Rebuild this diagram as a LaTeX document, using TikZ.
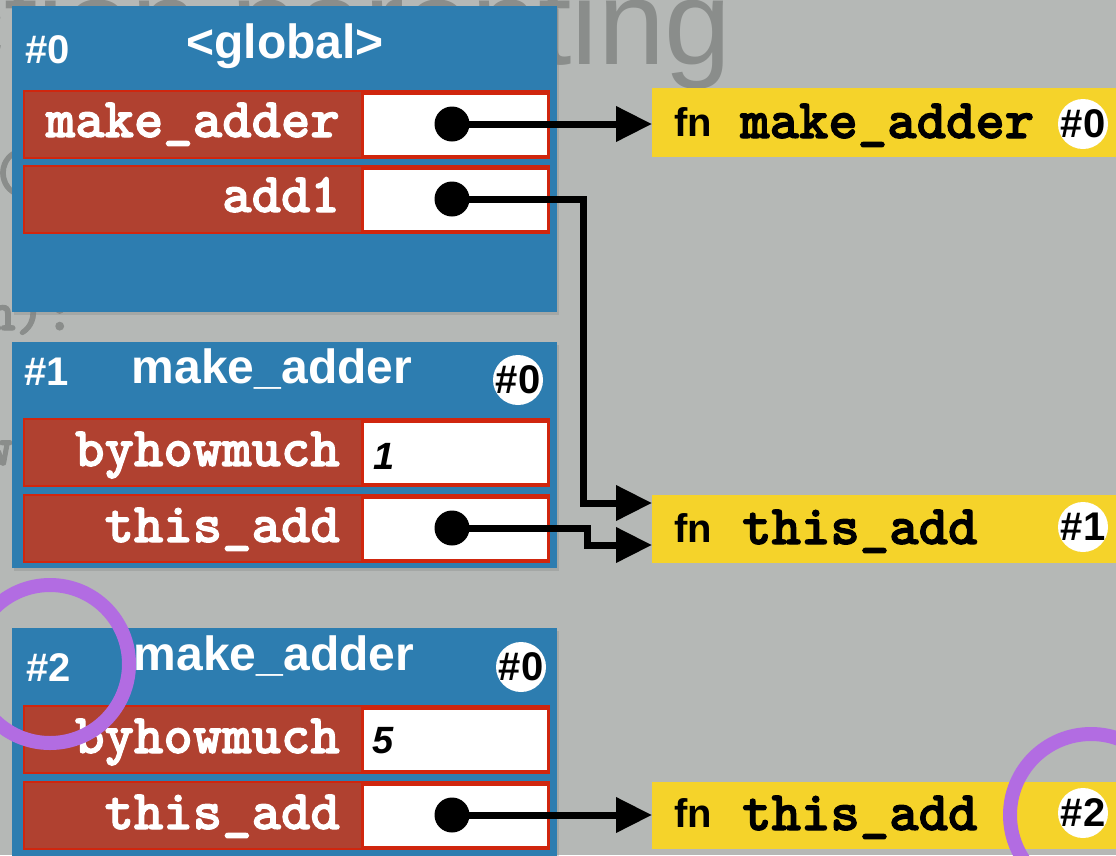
\documentclass[tikz,border=0pt]{standalone}
\usepackage{fontspec}
\setmainfont{Liberation Sans}
\newfontfamily\codefont{lmmonolt10-bold.otf}[FakeBold=2]
\usetikzlibrary{arrows.meta,shadows}
\definecolor{bgc}{RGB}{181,184,182}
\definecolor{frameblue}{RGB}{45,125,176}
\definecolor{rowred}{RGB}{176,65,48}
\definecolor{rowedge}{RGB}{208,38,14}
\definecolor{fnyellow}{RGB}{245,211,42}
\definecolor{ringpurple}{RGB}{178,108,226}
\definecolor{ghost}{RGB}{138,141,139}
\newcommand{\setfs}[1]{\fontsize{#1}{#1}\selectfont}
\begin{document}
\begin{tikzpicture}[x=1pt,y=-1pt,
  frame/.style={fill=frameblue, anchor=north west, inner sep=0, outer sep=0, minimum width=545pt,
    drop shadow={shadow xshift=2pt, shadow yshift=-3pt, opacity=0.3}},
  row/.style={fill=rowred, draw=rowedge, line width=2pt, minimum width=525pt, minimum height=67pt, anchor=north west, inner sep=0},
  val/.style={fill=white, draw=rowedge, line width=3pt, minimum width=186pt, minimum height=63pt, anchor=north west, inner sep=0},
  hdr/.style={text=white, font=\bfseries\setfs{48}, anchor=base, inner sep=0},
  fid/.style={text=white, font=\bfseries\setfs{40}, anchor=base west, inner sep=0},
  vname/.style={text=white, font=\codefont\setfs{56}, anchor=base east, inner sep=0},
  vval/.style={text=black, font=\bfseries\itshape\setfs{38}, anchor=base west, inner sep=0},
  fnbox/.style={fill=fnyellow, minimum width=470pt, anchor=north west, inner sep=0},
  fnkw/.style={text=black, font=\bfseries\setfs{40}, anchor=base west, inner sep=0},
  fnname/.style={text=black, font=\codefont\setfs{56}, anchor=base west, inner sep=0},
  pcirc/.style={circle, fill=white, minimum size=50pt, inner sep=0},
  plbl/.style={text=black, font=\bfseries\setfs{40}, inner sep=0},
  dot/.style={circle, fill=black, minimum size=35pt, inner sep=0},
  conn/.style={line width=7pt, -{Triangle[length=36pt,width=34pt]}},
  ring/.style={circle, draw=ringpurple, line width=14pt, inner sep=0},
  ghosttitle/.style={text=ghost, font=\setfs{120}, anchor=base east, inner sep=0},
  ghostcode/.style={text=ghost, font=\codefont\setfs{56}, anchor=base west, inner sep=0}
]
\useasboundingbox (0,0) rectangle (1116,855);
\clip (0,0) rectangle (1116,855);
\fill[bgc] (0,0) rectangle (1116,855);

% faded slide text in the background
\node[ghosttitle] (title) at (732,64) {Function parenting};
\node[ghostcode] (code1) at (-9,190) {(};
\node[ghostcode] (code2) at (-14,330) {n):};
\node[ghostcode] (code3) at (-17,465) {w};

% frame #0
\node[frame, minimum height=306pt] (f0) at (12,6) {};
\node[fid] (f0id) at (25,63) {\#0};
\node[hdr] (f0name) at (285,58) {<global>};
\node[row] (r0a) at (23,90) {};
\node[val] (v0a) at (361,92) {};
\node[vname] (n0a) at (340,137) {make\_adder};
\node[dot] (d0a) at (452,124) {};
\node[row] (r0b) at (23,165) {};
\node[val] (v0b) at (361,167) {};
\node[vname] (n0b) at (340,212) {add1};
\node[dot] (d0b) at (452,199) {};

% frame #1
\node[frame, minimum height=226pt] (f1) at (12,342) {};
\node[fid] (f1id) at (24,385) {\#1};
\node[hdr] (f1name) at (272,383) {make\_adder};
\node[pcirc, label={[plbl]center:\#0}] (f1p) at (518,380) {};
\node[row] (r1a) at (23,418) {};
\node[val] (v1a) at (361,420) {};
\node[vname] (n1a) at (340,466) {byhowmuch};
\node[vval] (x1a) at (373,469) {1};
\node[row] (r1b) at (23,494) {};
\node[val] (v1b) at (361,496) {};
\node[vname] (n1b) at (340,542) {this\_add};
\node[dot] (d1b) at (452,528) {};

% frame #2
\node[frame, minimum height=240pt] (f2) at (12,628) {};
\node[fid] (f2id) at (26,681) {\#2};
\node[hdr] (f2name) at (274,670) {make\_adder};
\node[pcirc, label={[plbl]center:\#0}] (f2p) at (521,667) {};
\node[row] (r2a) at (23,705) {};
\node[val] (v2a) at (361,707) {};
\node[vname] (n2a) at (340,753) {byhowmuch};
\node[vval] (x2a) at (372,753) {5};
\node[row] (r2b) at (23,781) {};
\node[val] (v2b) at (361,783) {};
\node[vname] (n2b) at (340,829) {this\_add};
\node[dot] (d2b) at (452,815) {};

% function objects
\node[fnbox, minimum height=69pt] (y0) at (652,88) {};
\node[fnkw] (y0kw) at (674,136) {fn};
\node[fnname] (y0nm) at (740,138) {make\_adder};
\node[pcirc, label={[plbl]center:\#0}] (y0p) at (1083,124) {};

\node[fnbox, minimum height=68pt] (y1) at (652,495) {};
\node[fnkw] (y1kw) at (674,542) {fn};
\node[fnname] (y1nm) at (742,544) {this\_add};
\node[pcirc, label={[plbl]center:\#1}] (y1p) at (1083,527) {};

\node[fnbox, minimum height=67pt] (y2) at (652,782) {};
\node[fnkw] (y2kw) at (674,827) {fn};
\node[fnname] (y2nm) at (742,830) {this\_add};
\node[pcirc, label={[plbl]center:\#2}] (y2p) at (1083,813) {};

% connectors
\coordinate (t1a) at (652,503);
\coordinate (t1b) at (652,545);
\draw[conn] (d0a.center) -- (d0a.center -| y0.west);
\draw[conn] (d0b.center) -- ++(131,0) |- (t1a);
\draw[conn] (d1b.center) -- ++(135,0) |- (t1b);
\draw[conn] (d2b.center) -- (d2b.center -| y2.west);

% highlight rings
\node[ring, minimum size=158pt] (ringA) at (50,664) {};
\node[ring, minimum size=162pt] (ringB) at (1091,815) {};
\end{tikzpicture}
\end{document}
